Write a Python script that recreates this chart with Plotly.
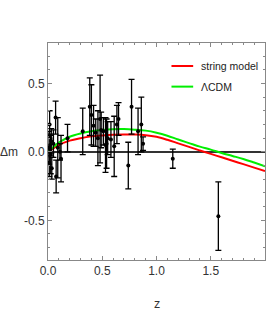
import plotly.graph_objects as go

# Supernova data (z, delta m, error)
z_data = [0.010, 0.012, 0.015, 0.020, 0.025, 0.030, 0.035, 0.050, 0.070, 0.075,
          0.090, 0.110, 0.120, 0.180, 0.320, 0.385, 0.400, 0.420, 0.440, 0.460,
          0.480, 0.490, 0.510, 0.530, 0.540, 0.550, 0.580, 0.610, 0.635, 0.650,
          0.740, 0.770, 0.830, 0.860, 0.876, 1.150, 1.570]
dm_data = [0.03, -0.08, 0.20, 0.05, -0.02, 0.08, -0.12, 0.06, 0.25, -0.18,
           0.03, 0.00, -0.05, 0.10, 0.15, 0.33, 0.27, 0.19, 0.14, 0.10,
           0.24, 0.16, 0.15, 0.05, 0.06, 0.10, 0.09, 0.04, 0.20, 0.24,
           -0.10, 0.33, 0.15, 0.20, 0.06, -0.05, -0.47]
err_data = [0.12, 0.10, 0.10, 0.08, 0.14, 0.09, 0.08, 0.10, 0.12, 0.12,
            0.22, 0.06, 0.17, 0.10, 0.17, 0.21, 0.22, 0.15, 0.10, 0.20,
            0.32, 0.13, 0.10, 0.20, 0.18, 0.12, 0.13, 0.22, 0.14, 0.12,
            0.17, 0.20, 0.17, 0.20, 0.05, 0.07, 0.25]

# Model curves
z_curve = [0.0, 0.05, 0.1, 0.2, 0.3, 0.4, 0.5, 0.6, 0.7, 0.8, 0.9, 1.0,
           1.1, 1.2, 1.3, 1.4, 1.5, 1.6, 1.7, 1.8, 1.9, 2.0]
dm_string = [0.0, 0.025, 0.05, 0.082, 0.100, 0.113, 0.120, 0.125, 0.127, 0.126, 0.122, 0.110,
             0.088, 0.062, 0.036, 0.010, -0.015, -0.040, -0.065, -0.090, -0.115, -0.140]
dm_lcdm = [0.0, 0.035, 0.068, 0.110, 0.134, 0.150, 0.160, 0.165, 0.166, 0.162, 0.155, 0.140,
           0.118, 0.090, 0.064, 0.038, 0.016, -0.008, -0.030, -0.052, -0.078, -0.105]

series_names = ["string model", "ΛCDM"]
series_colors = ["#ff0000", "#00ee00"]

font_family = "Liberation Sans Narrow, Arial Narrow, Liberation Sans, Arial, sans-serif"

fig = go.Figure()
for name, ys, col in zip(series_names, [dm_string, dm_lcdm], series_colors):
    fig.add_trace(go.Scatter(
        x=z_curve, y=ys, mode="lines", name=name, showlegend=False,
        line=dict(color=col, width=2, shape="spline"),
    ))
fig.add_trace(go.Scatter(
    x=z_data, y=dm_data, mode="markers", showlegend=False,
    marker=dict(color="black", size=4),
    error_y=dict(type="data", array=err_data, color="black", thickness=1.3, width=3),
))

# custom legend (paper coordinates)
legend_y = [0.894, 0.799]
shapes = []
annotations = []
for name, col, ly in zip(series_names, series_colors, legend_y):
    shapes.append(dict(type="line", xref="paper", yref="paper",
                       x0=0.569, x1=0.669, y0=ly, y1=ly,
                       line=dict(color=col, width=2)))
    annotations.append(dict(text=name, xref="paper", yref="paper", x=0.695, y=ly,
                            xanchor="left", yanchor="middle", showarrow=False,
                            font=dict(size=10.5, color="#222222")))

annotations += [
    dict(text="Δm", x=-0.224, y=0, xref="paper", yref="y", xanchor="left",
         showarrow=False, borderpad=0,
         font=dict(size=12, color="#333333")),
    dict(text="z", x=0.5, y=-0.245, xref="paper", yref="paper", showarrow=False,
         font=dict(size=12.5, color="#333333")),
]

fig.update_layout(
    width=273, height=327,
    margin=dict(l=48, r=8, t=43, b=67),
    paper_bgcolor="white", plot_bgcolor="white",
    font=dict(family=font_family, size=12, color="#333333"),
    showlegend=False,
    shapes=shapes,
    annotations=annotations,
)
fig.update_xaxes(
    range=[0, 2], tickvals=[0, 0.5, 1.0, 1.5, 2.0],
    ticktext=["0.0", "0.5", "1.0", "1.5", "2.0"],
    ticks="inside", ticklen=4, tickcolor="#888888",
    minor=dict(dtick=0.1, ticks="inside", ticklen=2, tickcolor="#888888"),
    showline=True, linecolor="#888888", linewidth=1, mirror="allticks",
    showgrid=False, zeroline=False, automargin=False,
)
fig.update_yaxes(
    range=[-0.79, 0.795], tickvals=[-0.5, 0.0, 0.5],
    ticktext=["-0.5", "0.0", "0.5"],
    ticks="inside", ticklen=4, tickcolor="#888888",
    minor=dict(dtick=0.1, ticks="inside", ticklen=2, tickcolor="#888888"),
    showline=True, linecolor="#888888", linewidth=1, mirror="allticks",
    showgrid=False, zeroline=True, zerolinecolor="#333333", zerolinewidth=1.5,
    automargin=False,
)

fig.write_html("out.html", config={"displayModeBar": False},
               post_script="document.body.style.margin='0';document.body.style.padding='0';")
